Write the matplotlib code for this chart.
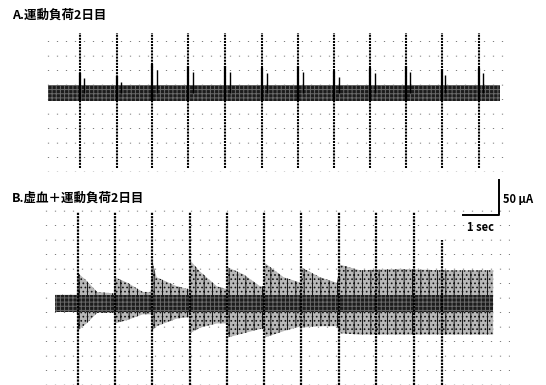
import numpy as np
import matplotlib
matplotlib.use("Agg")
import matplotlib.pyplot as plt
from matplotlib.ticker import MultipleLocator

plt.rcParams['font.family'] = ['Noto Sans CJK JP', 'DejaVu Sans']
plt.rcParams['hatch.linewidth'] = 0.7

# ---- panel A: exercise load, day 2 ----
title_a = "A.運動負荷2日目"
a_len = 12.45                      # s
a_noise = 11                       # half width of baseline band, uA
a_spike_t = [0.88, 1.90, 2.87, 3.86, 4.88, 5.90, 6.89, 7.88, 8.87, 9.86, 10.85, 11.87]
a_spike_top = [86, 86, 86, 86, 86, 86, 86, 86, 86, 86, 86, 86]
a_spike_bot = [-107, -107, -107, -107, -107, -107, -107, -107, -107, -107, -107, -107]
a_sub_dt = [0.11, 0.11, 0.14, 0.14, 0.14, 0.14, 0.14, 0.14, 0.14, 0.11, 0.08, 0.11]
a_sub_h = [21, 16, 33, 30, 30, 28, 30, 23, 28, 30, 26, 28]

# ---- panel B: ischemia + exercise load, day 2 ----
title_b = "B.虚血＋運動負荷2日目"
b_len = 12.07
b_noise = 12
b_spike_t = [0.64, 1.66, 2.67, 3.71, 4.75, 5.77, 6.79, 7.83, 8.84, 9.88, 10.66]
b_spike_top = [130, 130, 130, 130, 130, 130, 130, 130, 130, 130, 90]
b_spike_bot = [-117, -117, -117, -117, -117, -117, -117, -117, -117, -117, -117]
b_env_t = [0, 0.60, 0.63, 0.85, 1.16, 1.62, 1.65, 2.0, 2.42, 2.64, 2.67, 2.8,
           3.36, 3.69, 3.72, 4.0, 4.46, 4.74, 4.77, 5.2, 5.65, 5.76, 5.79, 6.3,
           6.78, 6.80, 7.3, 7.77, 7.85, 8.4, 9.5, 10.6, 12.07]
b_env_up = [12, 12, 43, 33, 16, 14, 37, 29, 16, 16, 61, 37,
            24, 20, 61, 45, 24, 20, 51, 41, 24, 24, 57, 37,
            29, 51, 37, 29, 55, 47, 49, 47, 47]
b_env_lo = [12, 12, 39, 30, 14, 14, 29, 24, 16, 16, 39, 33,
            22, 20, 43, 35, 29, 29, 49, 43, 37, 37, 49, 40,
            33, 35, 33, 33, 43, 45, 45, 45, 45]

scale_t = 1.0     # s
scale_i = 50      # uA

fig = plt.figure(figsize=(5.46, 3.85), dpi=100)
W, H = 546, 385


def px_axes(x0, y0, x1, y1):
    return fig.add_axes([x0 / W, 1 - y1 / H, (x1 - x0) / W, (y1 - y0) / H])


def style(ax):
    for s in ax.spines.values():
        s.set_visible(False)
    ax.tick_params(length=0, labelbottom=False, labelleft=False)
    ax.xaxis.set_major_locator(MultipleLocator(0.25))
    ax.grid(axis='x', color='#555555', linewidth=0.9, linestyle=(0, (0.6, 11)))
    ax.set_axisbelow(True)


# panel A
axA = px_axes(40, 30, 510, 172)
style(axA)
axA.set_xlim((40 - 48) / 36.3, (510 - 48) / 36.3)
axA.set_ylim(-113, 90)
axA.fill_between([0, a_len], [-a_noise] * 2, [a_noise] * 2,
                 facecolor='#1c1c1c', edgecolor='#6a6a6a', hatch='++++', linewidth=0)
axA.vlines(a_spike_t, a_spike_bot, a_spike_top, color='black', linewidth=1.5,
           linestyle=(0, (1, 0.5)))
axA.vlines(a_spike_t, -a_noise, [h + 8 for h in a_sub_h], color='black', linewidth=1.6)
axA.vlines(np.array(a_spike_t) + np.array(a_sub_dt), 0, a_sub_h, color='black', linewidth=1.0)
fig.text(12 / W, 1 - 15 / H, title_a, fontsize=9, fontweight='bold', va='center', ha='left')

# panel B
axB = px_axes(40, 208, 510, 385)
style(axB)
axB.set_xlim((40 - 55) / 36.3, (510 - 55) / 36.3)
axB.set_ylim(-117, 136)
axB.fill_between(b_env_t, [-v for v in b_env_lo], b_env_up,
                 facecolor='#b8b8b8', edgecolor='#141414', hatch='||....', linewidth=0)
axB.fill_between([0, b_len], [-b_noise] * 2, [b_noise] * 2,
                 facecolor='#1c1c1c', edgecolor='#6a6a6a', hatch='++++', linewidth=0)
axB.vlines(b_spike_t, b_spike_bot, b_spike_top, color='black', linewidth=1.6,
           linestyle=(0, (1, 0.5)))
fig.text(12 / W, 1 - 198 / H, title_b, fontsize=9, fontweight='bold', va='center', ha='left')

# scale bar
sx1 = (499 - 55) / 36.3
sy0 = (303 - 215) / 0.7
axB.plot([sx1 - scale_t, sx1, sx1], [sy0, sy0, sy0 + scale_i], color='black',
         linewidth=1.4, clip_on=False)
axB.text(sx1 + 0.1, sy0 + scale_i / 2 - 3, "50 μA", fontsize=8, fontweight='bold',
         va='center', ha='left', clip_on=False)
axB.text(sx1 - scale_t / 2, sy0 - 18, "1 sec", fontsize=8, fontweight='bold',
         va='center', ha='center', clip_on=False)

fig.savefig("out.png", dpi=100, facecolor='white')
